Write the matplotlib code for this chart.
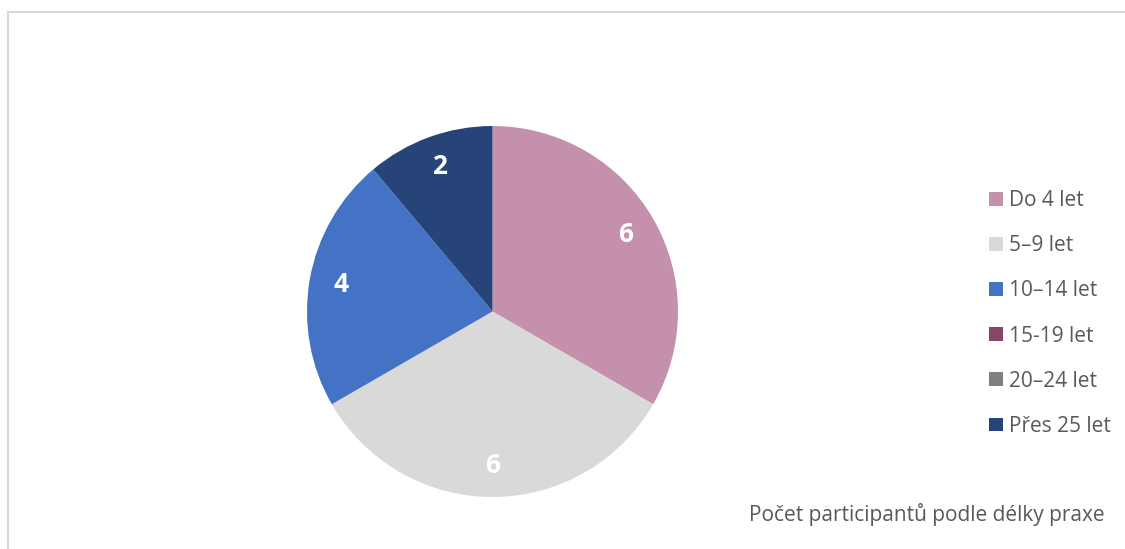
import matplotlib as mpl
mpl.use('Agg')

import matplotlib.pyplot as plt
from matplotlib.patches import Rectangle

categories = ['Do 4 let', '5–9 let', '10–14 let', '15-19 let', '20–24 let', 'Přes 25 let']
counts = [6, 6, 4, 0, 0, 2]
colors = ['#C490AB', '#D9D9D9', '#4472C4', '#86466A', '#808080', '#264478']

plt.rcParams['font.family'] = ['Open Sans', 'DejaVu Sans']

fig = plt.figure(figsize=(11.25, 5.49), dpi=100)

# light grey frame of the chart area (runs off the right and bottom edge)
fig.patches.append(Rectangle((7.5 / 1125, -0.1), 1.2, (549 - 12.5) / 549 + 0.1,
                             transform=fig.transFigure, fill=False,
                             edgecolor='#D9D9D9', linewidth=1.5))

cx, cy, r = 492.5, 311.5, 185.5
ax = fig.add_axes([(cx - r) / 1125, (549 - cy - r) / 549, 2 * r / 1125, 2 * r / 549])

labels = [str(v) if v > 0 else '' for v in counts]
wedges, texts = ax.pie(counts, colors=colors, startangle=90, counterclock=False,
                       labels=labels, labeldistance=0.83,
                       wedgeprops=dict(linewidth=0))
for t in texts:
    t.set_color('white')
    t.set_fontsize(19)
    t.set_fontweight('bold')
    t.set_ha('center')
    t.set_va('center')
ax.set_xlim(-1, 1)
ax.set_ylim(-1, 1)
ax.set_aspect('equal')

leg = fig.legend(wedges, categories, loc='upper left',
                 bbox_to_anchor=(989 / 1125, (549 - 190) / 549),
                 frameon=False, fontsize=15, labelcolor='#595959',
                 handlelength=0.65, handleheight=0.65, handletextpad=0.3,
                 labelspacing=1.16, borderaxespad=0, borderpad=0)

fig.text(1105 / 1125, (549 - 514) / 549, 'Počet participantů podle délky praxe',
         ha='right', va='center', fontsize=15, color='#595959')

fig.savefig('out.png', dpi=100)
